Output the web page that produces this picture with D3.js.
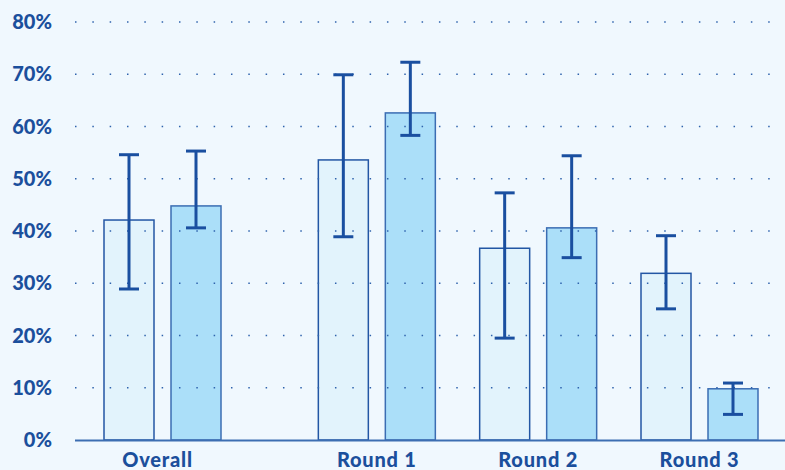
<!DOCTYPE html>
<html>
<head>
<meta charset="utf-8">
<script src="https://cdn.jsdelivr.net/npm/d3@7"></script>
<style>
  body { margin: 0; background: #f0f8fe; }
  svg { display: block; }
  text { font-family: "Lato", "Open Sans", sans-serif; font-weight: 900; fill: #1b4f9c; }
</style>
</head>
<body>
<script>
// Data (percent)
var groups = ["Overall", "Round 1", "Round 2", "Round 3"];
var valuesA = [42.1, 53.6, 36.7, 31.9];
var lowA    = [28.9, 38.9, 19.5, 25.1];
var highA   = [54.6, 69.9, 47.3, 39.1];
var valuesB = [44.8, 62.6, 40.6, 9.8];
var lowB    = [40.6, 58.3, 34.9, 4.9];
var highB   = [55.3, 72.3, 54.4, 10.9];
var yTicks  = [0, 10, 20, 30, 40, 50, 60, 70, 80];

var W = 785, H = 470;
var margin = {top: 22, right: 0, bottom: 30, left: 75},
    width = W - margin.left - margin.right,
    height = H - margin.top - margin.bottom;

var svg = d3.select("body")
  .append("svg")
  .attr("width", W)
  .attr("height", H);

var g = svg.append("g")
  .attr("transform", "translate(" + margin.left + "," + margin.top + ")");

var y = d3.scaleLinear().domain([0, 80]).range([height, 0]);

// group centers: Overall sits a little apart from the rounds
var x = d3.scaleLinear().domain([0, 3]).range([87.5 + 53, 624.5]);
function groupX(i) { return i === 0 ? x(0) - 53 : x(i); }

var barW = 50, half = 33.5, capW = 20;

// y labels
g.selectAll(".ylab")
  .data(yTicks)
  .enter().append("text")
  .attr("class", "ylab")
  .attr("x", -23)
  .attr("y", function(d) { return y(d); })
  .attr("dy", "0.36em")
  .attr("text-anchor", "end")
  .style("font-size", "20px")
  .text(function(d) { return d + "%"; });

var rows = groups.map(function(name, i) {
  return [
    {i: i, side: -1, v: valuesA[i], lo: lowA[i], hi: highA[i]},
    {i: i, side: 1, v: valuesB[i], lo: lowB[i], hi: highB[i]}
  ];
}).flat();

// bars
g.selectAll(".bar")
  .data(rows)
  .enter().append("rect")
  .attr("class", "bar")
  .attr("x", function(d) { return groupX(d.i) + d.side * half - barW / 2; })
  .attr("y", function(d) { return y(d.v); })
  .attr("width", barW)
  .attr("height", function(d) { return height - y(d.v); })
  .attr("fill", function(d) { return d.side < 0 ? "#e2f3fc" : "#abdff9"; })
  .attr("stroke", function(d) { return d.side < 0 ? "#2356a4" : "#3b6db3"; })
  .attr("stroke-width", 1.5);

// dotted grid on top of bars
g.selectAll(".grid")
  .data(yTicks.filter(function(d) { return d > 0; }))
  .enter().append("line")
  .attr("class", "grid")
  .attr("x1", 0)
  .attr("x2", width)
  .attr("y1", function(d) { return y(d); })
  .attr("y2", function(d) { return y(d); })
  .attr("stroke", "#2f63ad")
  .attr("stroke-width", 1.5)
  .attr("stroke-dasharray", "1.5 15.83");

// baseline
g.append("line")
  .attr("x1", 0).attr("x2", width)
  .attr("y1", height + 0.5).attr("y2", height + 0.5)
  .attr("stroke", "#3c6eb2")
  .attr("stroke-width", 2);

// error bars
var err = g.selectAll(".err")
  .data(rows)
  .enter().append("g")
  .attr("class", "err")
  .attr("transform", function(d) { return "translate(" + (groupX(d.i) + d.side * half) + ",0)"; });

err.append("line")
  .attr("x1", 0).attr("x2", 0)
  .attr("y1", function(d) { return y(d.hi); })
  .attr("y2", function(d) { return y(d.lo); });
err.append("line")
  .attr("x1", -capW / 2).attr("x2", capW / 2)
  .attr("y1", function(d) { return y(d.hi); })
  .attr("y2", function(d) { return y(d.hi); });
err.append("line")
  .attr("x1", -capW / 2).attr("x2", capW / 2)
  .attr("y1", function(d) { return y(d.lo); })
  .attr("y2", function(d) { return y(d.lo); });
err.selectAll("line")
  .attr("stroke", "#1a4fa0")
  .attr("stroke-width", 3);

// x labels
g.selectAll(".xlab")
  .data(groups)
  .enter().append("text")
  .attr("class", "xlab")
  .attr("x", function(d, i) { return groupX(i) - (i === 0 ? 5 : 0); })
  .attr("y", height + 27)
  .attr("text-anchor", "middle")
  .style("font-size", "20px")
  .style("letter-spacing", "0.8px")
  .text(function(d) { return d; });
</script>
</body>
</html>
